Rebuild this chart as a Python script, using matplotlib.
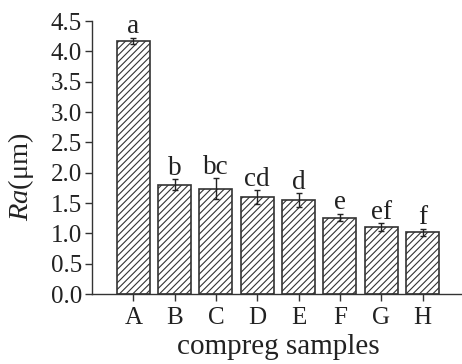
import numpy as np
import matplotlib
matplotlib.use('Agg')
import matplotlib.pyplot as plt

samples = ['A', 'B', 'C', 'D', 'E', 'F', 'G', 'H']
ra = [4.17, 1.80, 1.74, 1.60, 1.55, 1.26, 1.10, 1.02]
err = [0.055, 0.09, 0.17, 0.11, 0.11, 0.06, 0.065, 0.06]
groups = ['a', 'b', 'bc', 'cd', 'd', 'e', 'ef', 'f']

plt.rcParams['font.family'] = ['Liberation Serif', 'DejaVu Serif']
plt.rcParams['hatch.linewidth'] = 0.8
plt.rcParams['hatch.color'] = '#333333'
plt.rcParams['mathtext.fontset'] = 'custom'
plt.rcParams['mathtext.rm'] = 'Liberation Serif'
plt.rcParams['mathtext.it'] = 'Liberation Serif:italic'

fig = plt.figure(figsize=(4.62, 3.64), dpi=100)
ax = fig.add_axes([0.199, 0.192, 0.805, 0.750])

x = np.arange(len(samples))
ax.bar(x, ra, width=0.8, color='white', edgecolor='#333333', linewidth=1.2,
       hatch='/////', yerr=err, capsize=2.5,
       error_kw={'elinewidth': 1.0, 'capthick': 1.0, 'ecolor': '#222222'})

# significance letters above the error bars
for xi, v, e, g in zip(x, ra, err, groups):
    ax.annotate(g, xy=(xi, v + e), xytext=(0, -1), textcoords='offset points',
                ha='center', va='bottom', fontsize=19.5, color='#222222')

ax.set_xlim(-1, 8)
ax.set_ylim(0, 4.5)
ax.set_xticks(x)
ax.set_xticklabels(samples)
ax.set_yticks(np.arange(0, 4.51, 0.5))
ax.set_yticklabels(['%.1f' % v for v in np.arange(0, 4.51, 0.5)])
ax.tick_params(labelsize=18, length=5, width=1, pad=2, color='#333333', labelcolor='#222222')
ax.tick_params(axis='x', pad=4)
ax.spines['top'].set_visible(False)
ax.spines['right'].set_visible(False)
for s in ['left', 'bottom']:
    ax.spines[s].set_color('#333333')
    ax.spines[s].set_linewidth(1)

ax.set_ylabel(r'$\mathit{Ra}$(μm)', fontsize=20.5, color='#222222')
ax.yaxis.set_label_coords(-0.15, 0.43)
ax.set_xlabel('compreg samples', fontsize=21, color='#222222', labelpad=4)

fig.savefig('out.png', dpi=100)
